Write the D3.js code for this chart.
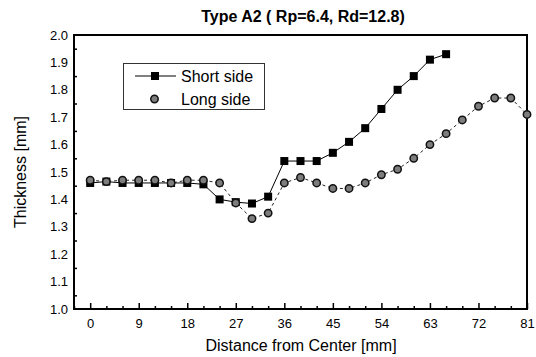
<!DOCTYPE html>
<html>
<head>
<meta charset="utf-8">
<script src="https://cdn.jsdelivr.net/npm/d3@7"></script>
<style>
  body { margin: 0; background: #fff; }
  text { font-family: "Liberation Sans", Arial, sans-serif; fill: #000; }
</style>
</head>
<body>
<svg width="536" height="357"></svg>
<script>
var shortX = [0, 3, 6, 9, 12, 15, 18, 21, 24, 27, 30, 33, 36, 39, 42, 45, 48, 51, 54, 57, 60, 63, 66];
var shortY = [1.46, 1.465, 1.46, 1.46, 1.46, 1.46, 1.46, 1.455, 1.40, 1.39, 1.385, 1.41, 1.54, 1.54, 1.54, 1.57, 1.61, 1.66, 1.73, 1.80, 1.85, 1.91, 1.93];

var longX = [0, 3, 6, 9, 12, 15, 18, 21, 24, 27, 30, 33, 36, 39, 42, 45, 48, 51, 54, 57, 60, 63, 66, 69, 72, 75, 78, 81];
var longY = [1.47, 1.465, 1.47, 1.47, 1.47, 1.46, 1.47, 1.47, 1.46, 1.387, 1.33, 1.35, 1.46, 1.48, 1.46, 1.44, 1.44, 1.46, 1.49, 1.51, 1.55, 1.60, 1.64, 1.69, 1.74, 1.77, 1.77, 1.71];

var xTicks = [0, 9, 18, 27, 36, 45, 54, 63, 72, 81];
var xMinorTicks = [-3, 3, 6, 12, 15, 21, 24, 30, 33, 39, 42, 48, 51, 57, 60, 66, 69, 75, 78];
var yTicks = [1.0, 1.1, 1.2, 1.3, 1.4, 1.5, 1.6, 1.7, 1.8, 1.9, 2.0];
var yMinorTicks = [1.05, 1.15, 1.25, 1.35, 1.45, 1.55, 1.65, 1.75, 1.85, 1.95];

var seriesNames = ["Short side", "Long side"];
var title = "Type A2 ( Rp=6.4, Rd=12.8)";

var shortData = shortX.map(function(x, i) { return { x: x, y: shortY[i] }; });
var longData = longX.map(function(x, i) { return { x: x, y: longY[i] }; });

var svg = d3.select("svg");

var x = d3.scaleLinear().domain([-3, 81]).range([74, 527]);
var y = d3.scaleLinear().domain([1.0, 2.0]).range([309, 35]);

// minor ticks, pointing inward
svg.append("g")
   .attr("transform", "translate(0," + y(1.0) + ")")
   .call(d3.axisBottom(x).tickValues(xMinorTicks).tickSize(-3).tickFormat(""))
   .call(function(g) { g.select(".domain").remove(); });

svg.append("g")
   .attr("transform", "translate(" + x(-3) + ",0)")
   .call(d3.axisLeft(y).tickValues(yMinorTicks).tickSize(-3).tickFormat(""))
   .call(function(g) { g.select(".domain").remove(); });

// major ticks + labels
var xAxis = svg.append("g")
   .attr("transform", "translate(0," + y(1.0) + ")")
   .call(d3.axisBottom(x).tickValues(xTicks).tickSizeInner(-6).tickSizeOuter(0).tickPadding(10));
xAxis.select(".domain").remove();
xAxis.selectAll("text").attr("font-size", 13).attr("fill", "#000")
   .style("font-family", "'Liberation Sans', Arial, sans-serif");

var yAxis = svg.append("g")
   .attr("transform", "translate(" + x(-3) + ",0)")
   .call(d3.axisLeft(y).tickValues(yTicks).tickSize(0).tickPadding(6).tickFormat(d3.format(".1f")));
yAxis.select(".domain").remove();
yAxis.selectAll("text").attr("font-size", 13).attr("fill", "#000")
   .style("font-family", "'Liberation Sans', Arial, sans-serif");

svg.selectAll(".tick line").attr("stroke", "#000").attr("stroke-width", 1.5);

// frame
svg.append("rect")
   .attr("x", x(-3))
   .attr("y", y(2.0))
   .attr("width", x(81) - x(-3))
   .attr("height", y(1.0) - y(2.0))
   .attr("fill", "none")
   .attr("stroke", "#000")
   .attr("stroke-width", 2);

var line = d3.line()
   .x(function(d) { return x(d.x); })
   .y(function(d) { return y(d.y); });

svg.append("path")
   .datum(longData)
   .attr("fill", "none")
   .attr("stroke", "#222")
   .attr("stroke-width", 1)
   .attr("stroke-dasharray", "3,3")
   .attr("d", line);

svg.append("path")
   .datum(shortData)
   .attr("fill", "none")
   .attr("stroke", "#000")
   .attr("stroke-width", 1)
   .attr("d", line);

svg.selectAll(".sq")
   .data(shortData)
   .enter().append("rect")
   .attr("class", "sq")
   .attr("x", function(d) { return x(d.x) - 4; })
   .attr("y", function(d) { return y(d.y) - 4; })
   .attr("width", 8)
   .attr("height", 8)
   .attr("fill", "#000");

svg.selectAll(".dot")
   .data(longData)
   .enter().append("circle")
   .attr("class", "dot")
   .attr("cx", function(d) { return x(d.x); })
   .attr("cy", function(d) { return y(d.y); })
   .attr("r", 3.7)
   .attr("fill", "#7d7d7d")
   .attr("stroke", "#111")
   .attr("stroke-width", 1.5);

// legend
var legend = svg.append("g");
legend.append("rect")
   .attr("x", 123.5).attr("y", 63.5)
   .attr("width", 141).attr("height", 46)
   .attr("fill", "#fff")
   .attr("stroke", "#333")
   .attr("stroke-width", 1);
legend.append("line")
   .attr("x1", 135).attr("x2", 176)
   .attr("y1", 76).attr("y2", 76)
   .attr("stroke", "#000").attr("stroke-width", 1);
legend.append("rect")
   .attr("x", 151).attr("y", 72).attr("width", 8).attr("height", 8)
   .attr("fill", "#000");
legend.append("circle")
   .attr("cx", 154.5).attr("cy", 99).attr("r", 3.7)
   .attr("fill", "#7d7d7d").attr("stroke", "#111").attr("stroke-width", 1.5);
legend.selectAll(".lt")
   .data(seriesNames)
   .enter().append("text")
   .attr("class", "lt")
   .attr("x", 181)
   .attr("y", function(d, i) { return 81.5 + i * 23.5; })
   .attr("font-size", 16)
   .attr("fill", "#000")
   .text(function(d) { return d; });

// titles
svg.append("text")
   .attr("x", 303).attr("y", 22)
   .attr("text-anchor", "middle")
   .attr("font-size", 16)
   .attr("font-weight", "bold")
   .attr("fill", "#000")
   .text(title);

svg.append("text")
   .attr("x", 301).attr("y", 351)
   .attr("text-anchor", "middle")
   .attr("font-size", 16)
   .attr("fill", "#000")
   .text("Distance from Center [mm]");

svg.append("text")
   .attr("transform", "translate(26," + y(1.5) + ") rotate(-90)")
   .attr("text-anchor", "middle")
   .attr("font-size", 16)
   .attr("fill", "#000")
   .text("Thickness [mm]");
</script>
</body>
</html>
